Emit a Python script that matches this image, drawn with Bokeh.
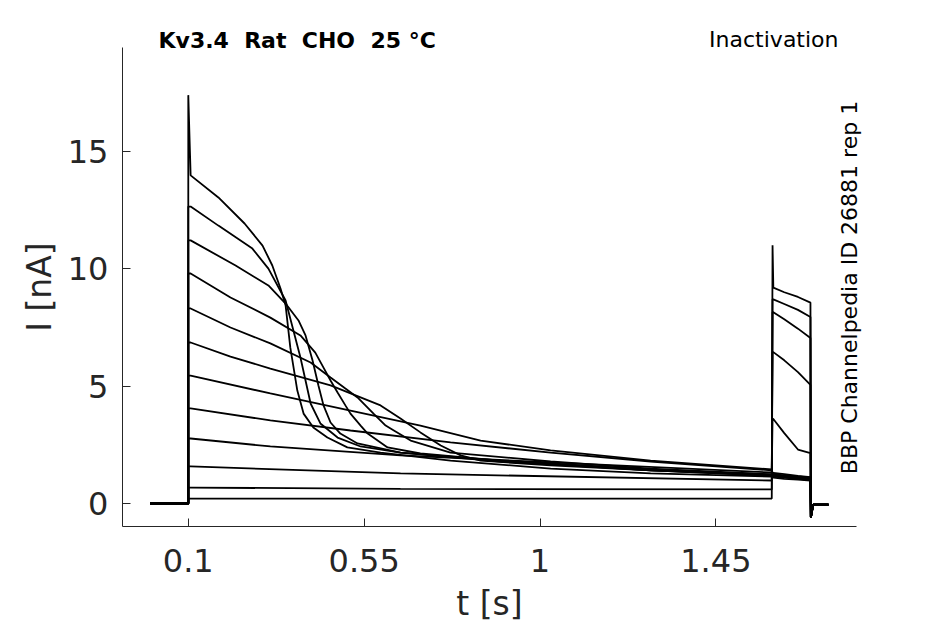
import math
from bokeh.plotting import figure
from bokeh.models import FixedTicker, Label, Range1d
from bokeh.embed import file_html
from bokeh.resources import INLINE

# ---------------- data ----------------
x_ticks = [0.1, 0.55, 1.0, 1.45]
x_tick_labels = ["0.1", "0.55", "1", "1.45"]
y_ticks = [0, 5, 10, 15]
y_tick_labels = ["0", "5", "10", "15"]

# visible axis extents (data units)
x_axis_span = (-0.0684, 1.8098)
y_axis_span = (-0.98, 19.43)

# baseline before the prepulse
base_t = [0.003, 0.1]
base_I = [0.0, 0.0]

# prepulse segment of each sweep (time s, current nA)
A_t = [0.106, 0.177, 0.244, 0.290, 0.315, 0.336, 0.349, 0.361, 0.379, 0.395, 0.420, 0.456, 0.507, 0.592, 0.771, 1.027, 1.283, 1.593]
A_I = [13.98, 13.04, 11.93, 10.99, 10.14, 9.16, 8.44, 6.65, 4.81, 3.83, 3.24, 2.81, 2.39, 2.17, 1.83, 1.49, 1.28, 1.15]
B_t = [0.106, 0.177, 0.264, 0.305, 0.349, 0.369, 0.387, 0.400, 0.413, 0.438, 0.482, 0.541, 0.643, 0.899, 1.283, 1.593]
B_I = [12.65, 11.84, 10.86, 10.01, 8.65, 7.37, 6.22, 5.24, 4.26, 3.41, 2.81, 2.43, 2.17, 1.83, 1.41, 1.19]
C_t = [0.106, 0.221, 0.305, 0.349, 0.382, 0.400, 0.418, 0.433, 0.446, 0.464, 0.489, 0.533, 0.643, 0.899, 1.283, 1.593]
C_I = [11.21, 10.14, 9.29, 8.52, 7.80, 7.16, 6.09, 5.03, 4.18, 3.45, 2.98, 2.56, 2.17, 1.79, 1.41, 1.24]
D_t = [0.106, 0.208, 0.310, 0.387, 0.425, 0.446, 0.464, 0.482, 0.502, 0.515, 0.541, 0.559, 0.610, 0.694, 0.899, 1.283, 1.593]
D_I = [9.80, 8.78, 7.92, 7.16, 6.43, 5.79, 5.24, 4.73, 4.18, 3.83, 3.32, 2.98, 2.39, 2.13, 1.83, 1.45, 1.19]
E_t = [0.106, 0.208, 0.310, 0.413, 0.464, 0.502, 0.533, 0.574, 0.605, 0.626, 0.669, 0.771, 1.027, 1.283, 1.593]
E_I = [8.31, 7.50, 6.82, 6.01, 5.37, 4.90, 4.52, 3.83, 3.32, 3.11, 2.68, 2.17, 1.79, 1.49, 1.24]
F_t = [0.106, 0.208, 0.310, 0.464, 0.592, 0.643, 0.694, 0.746, 0.797, 0.848, 1.027, 1.283, 1.593]
F_I = [6.86, 6.26, 5.75, 5.03, 4.18, 3.62, 3.03, 2.47, 2.05, 1.83, 1.62, 1.41, 1.19]
G_t = [0.106, 0.310, 0.515, 0.694, 0.848, 1.027, 1.283, 1.593]
G_I = [5.45, 4.69, 3.96, 3.32, 2.68, 2.26, 1.83, 1.45]
H_t = [0.106, 0.310, 0.515, 0.771, 1.027, 1.283, 1.593]
H_I = [4.05, 3.54, 3.11, 2.60, 2.17, 1.79, 1.41]
I_t = [0.106, 0.310, 0.643, 1.027, 1.593]
I_I = [2.77, 2.43, 2.05, 1.75, 1.32]
J_t = [0.106, 0.643, 1.593]
J_I = [1.58, 1.28, 0.98]
K_t = [0.106, 0.643, 1.593]
K_I = [0.68, 0.62, 0.60]
L_t = [0.106, 1.593]
L_I = [0.21, 0.21]

# capacitive peaks at the steps (nA)
onset_peak = {"A": 17.4}
test_peak = {"L": 11.0}

# test pulse segment
test_t = [1.597, 1.625, 1.660, 1.692]
test_I = {
    "A": [1.18, 1.12, 1.07, 1.03],
    "B": [1.22, 1.17, 1.12, 1.08],
    "C": [1.10, 1.05, 1.02, 0.98],
    "D": [1.15, 1.10, 1.05, 1.00],
    "E": [1.25, 1.20, 1.15, 1.10],
    "F": [1.20, 1.15, 1.10, 1.05],
    "G": [1.30, 1.25, 1.18, 1.12],
    "H": [3.60, 3.00, 2.30, 2.15],
    "I": [6.45, 6.10, 5.60, 5.05],
    "J": [8.15, 7.85, 7.45, 7.05],
    "K": [8.70, 8.50, 8.25, 7.95],
    "L": [9.20, 9.00, 8.80, 8.56],
}

# tail after the test pulse
tail_t = [1.693, 1.699, 1.738]
tail_I = [-0.60, -0.05, -0.05]

pre = {
    "A": (A_t, A_I), "B": (B_t, B_I), "C": (C_t, C_I), "D": (D_t, D_I),
    "E": (E_t, E_I), "F": (F_t, F_I), "G": (G_t, G_I), "H": (H_t, H_I),
    "I": (I_t, I_I), "J": (J_t, J_I), "K": (K_t, K_I), "L": (L_t, L_I),
}

xs, ys = [], []
for name, (pt, pI) in pre.items():
    t = list(base_t)
    c = list(base_I)
    t.append(0.1)
    c.append(onset_peak.get(name, pI[0]))
    t += pt
    c += pI
    t.append(1.595)
    c.append(test_peak.get(name, test_I[name][0]))
    t += test_t
    c += test_I[name]
    t += tail_t
    c += tail_I
    xs.append(t)
    ys.append(c)

# ---------------- figure ----------------
INK = "#262626"
W, H = 929, 621
p = figure(width=W, height=H, title=None,
           x_range=Range1d(-0.3805, 1.9966), y_range=Range1d(-5.028, 21.432),
           output_backend="svg", toolbar_location=None,
           min_border=0, min_border_left=0, min_border_right=0,
           min_border_top=0, min_border_bottom=0)
p.outline_line_color = None
p.xgrid.visible = False
p.ygrid.visible = False
p.background_fill_color = "white"
p.border_fill_color = "white"

p.multi_line(xs=xs, ys=ys, line_color="black", line_width=1.8)

for ax in (p.xaxis[0], p.yaxis[0]):
    ax.axis_line_color = INK
    ax.axis_line_width = 1
    ax.major_tick_line_color = INK
    ax.major_tick_in = 8
    ax.major_tick_out = 0
    ax.minor_tick_line_color = None
    ax.major_label_text_color = INK
    ax.major_label_text_font = "DejaVu Sans"
    ax.major_label_text_font_size = "32px"
    ax.axis_label_text_color = INK
    ax.axis_label_text_font = "DejaVu Sans"
    ax.axis_label_text_font_size = "33px"
    ax.axis_label_text_font_style = "normal"

xa = p.xaxis[0]
xa.ticker = FixedTicker(ticks=x_ticks)
xa.major_label_overrides = dict(zip(x_ticks, x_tick_labels))
xa.axis_label = "t [s]"
xa.major_label_standoff = 23
xa.axis_label_standoff = 8
xa.bounds = x_axis_span
xa.fixed_location = y_axis_span[0]

ya = p.yaxis[0]
ya.ticker = FixedTicker(ticks=y_ticks)
ya.major_label_overrides = dict(zip(y_ticks, y_tick_labels))
ya.axis_label = "I [nA]"
ya.major_label_standoff = 14
ya.axis_label_standoff = 6
ya.bounds = y_axis_span
ya.fixed_location = x_axis_span[0]

NB = "\u00a0"
p.add_layout(Label(x=158, y=H - 40, x_units="screen", y_units="screen",
                   text=f"Kv3.4{NB} Rat{NB} CHO{NB} 25 °C", text_font="DejaVu Sans",
                   text_font_style="bold", text_font_size="22px",
                   text_color="black", text_baseline="middle", text_align="left"))
p.add_layout(Label(x=838, y=H - 39, x_units="screen", y_units="screen",
                   text="Inactivation", text_font="DejaVu Sans",
                   text_font_size="22px", text_color="black",
                   text_baseline="middle", text_align="right"))
p.add_layout(Label(x=849, y=H - 287, x_units="screen", y_units="screen",
                   text="BBP Channelpedia ID 26881 rep 1", text_font="DejaVu Sans",
                   text_font_size="22px", text_color="black", angle=math.pi / 2,
                   text_baseline="middle", text_align="center"))

open("out.html", "w").write(file_html(p, INLINE))
